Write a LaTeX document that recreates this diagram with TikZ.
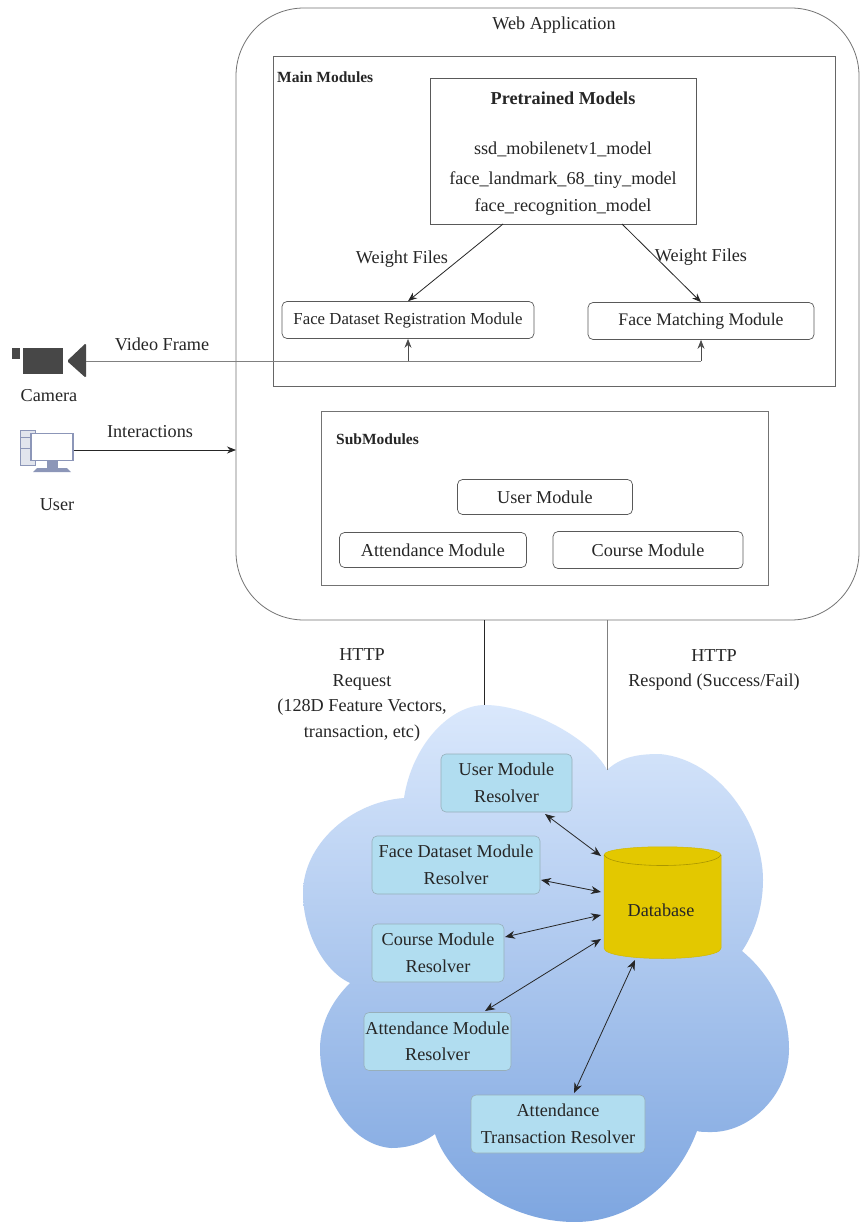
\documentclass[tikz,border=0pt]{standalone}
\usepackage{fontspec}
\setmainfont{Liberation Serif}
\usetikzlibrary{arrows.meta,shapes.geometric}
\definecolor{resblue}{HTML}{B1DDF0}
\definecolor{cloudtop}{HTML}{DAE8FC}
\definecolor{cloudbot}{HTML}{7EA6E0}
\definecolor{dbyellow}{HTML}{E3C800}
\definecolor{iconblue}{HTML}{8C96B8}
\tikzset{
  lbl/.style={inner sep=0pt,align=center,font=\fontsize{18.2}{25.5}\selectfont,text=black!85},
  frame/.style={draw=black!60,line width=.8pt,fill=white,inner sep=0pt},
  mod/.style={draw=black!65,line width=.7pt,rounded corners=5pt,fill=white,inner sep=0pt,font=\fontsize{18.2}{22}\selectfont,text=black!85},
  res/.style={draw=cyan!40!black!50,line width=.6pt,fill=resblue,rounded corners=5pt,inner sep=0pt,align=center,font=\fontsize{18.2}{26.5}\selectfont,text=black!85},
  arr/.style={-{Stealth[length=9pt,width=7pt]},line width=.8pt,draw=black!85},
  darr/.style={{Stealth[length=10pt,width=8pt]}-{Stealth[length=10pt,width=8pt]},line width=.8pt,draw=black!85},
  gline/.style={line width=.8pt,draw=black!50},
}
\begin{document}
\begin{tikzpicture}[x=1pt,y=-1pt]
\useasboundingbox (0,0) rectangle (859,1222);
\fill[white] (0,0) rectangle (859,1222);
% web application frame
\node[draw=black!55,line width=.8pt,fill=white,rounded corners=68pt,minimum width=623pt,minimum height=612pt,inner sep=0pt] (web) at (547.5,314) {};
\node[lbl] (webapp) at (554,25) {Web Application};
% main modules
\node[frame,minimum width=562pt,minimum height=330pt] (mainbox) at (554,221) {};
\node[lbl,anchor=west,font=\fontsize{15.5}{22}\selectfont\bfseries] (mainlbl) at (277,77) {Main Modules};
\node[frame,draw=black!65,minimum width=266pt,minimum height=146pt] (pre) at (563,151) {};
\node[lbl,font=\fontsize{18.2}{22}\selectfont\bfseries] (pretitle) at (563,98) {Pretrained Models};
\node[lbl] (ssd) at (563,149) {ssd\_mobilenetv1\_model};
\node[lbl] (landmark) at (563,180) {face\_landmark\_68\_tiny\_model};
\node[lbl] (recog) at (563,207) {face\_recognition\_model};
\node[mod,font=\fontsize{16.8}{22}\selectfont,minimum width=252pt,minimum height=37pt] (reg) at (408,320) {Face Dataset Registration Module};
\node[mod,font=\fontsize{17.7}{22}\selectfont,minimum width=226pt,minimum height=37pt] (match) at (701,321) {Face Matching Module};
\coordinate (preL) at (503,224);
\coordinate (preR) at (622,224);
\draw[arr] (preL) -- (reg.north);
\draw[arr] (preR) -- (match.north);
\node[lbl] (wf1) at (402,259) {Weight Files};
\node[lbl] (wf2) at (701,257) {Weight Files};
% submodules
\node[frame,draw=black!55,minimum width=447pt,minimum height=174pt] (subbox) at (545,498) {};
\node[lbl,anchor=west,font=\fontsize{15.5}{22}\selectfont\bfseries] (sublbl) at (336,439) {SubModules};
\node[mod,minimum width=175pt,minimum height=35pt] (user) at (545,497) {User Module};
\node[mod,minimum width=187pt,minimum height=35pt] (att) at (433,550) {Attendance Module};
\node[mod,minimum width=190pt,minimum height=37pt] (course) at (648,550) {Course Module};
% camera
\fill[black!72] (12,348) rectangle (20,359);
\fill[black!72] (23,348) rectangle (63,374);
\fill[black!72,rounded corners=1.5pt] (86,343) -- (86,378) -- (67,361) -- cycle;
\coordinate (cam) at (86,361);
\node[lbl] (camlbl) at (49,396) {Camera};
% video frame line
\coordinate (jR) at (701,361);
\coordinate (jL) at (408,361);
\draw[gline] (cam) -- (jR);
\draw[arr,draw=black!70] (jL) -- (reg.south);
\draw[arr,draw=black!70] (jR) -- (match.south);
\node[lbl] (vf) at (162,344) {Video Frame};
% user icon
\draw[iconblue,line width=.8pt,fill=iconblue!25] (20,430) rectangle (35,465);
\draw[iconblue,line width=.8pt] (20,437) -- (35,437) (20,448) -- (35,448);
\fill[iconblue] (47,460) rectangle (58,468);
\fill[iconblue] (37,468) -- (67,468) -- (71,472) -- (33,472) -- cycle;
\node[draw=iconblue,line width=1.2pt,fill=white,minimum width=42pt,minimum height=27pt,inner sep=0pt] (pc) at (52,447) {};
\node[lbl] (userlbl) at (57,505) {User};
\coordinate (waL) at (236,450);
\draw[arr] (pc.east |- waL) -- (waL);
\node[lbl] (inter) at (150,432) {Interactions};
% cloud
\path[top color=cloudtop,bottom color=cloudbot,draw=none] (404,798)
  .. controls (412,745) and (450,705) .. (485,705)
  .. controls (530,705) and (592,740) .. (607,770)
  .. controls (622,756) and (640,754) .. (660,754)
  .. controls (720,760) and (763,825) .. (763,880)
  .. controls (763,910) and (753,935) .. (742,951)
  .. controls (771,975) and (789,1010) .. (789,1049)
  .. controls (789,1095) and (750,1132) .. (712,1132)
  .. controls (705,1132) and (700,1132) .. (697,1131)
  .. controls (675,1190) and (625,1222) .. (575,1222)
  .. controls (510,1222) and (450,1180) .. (435,1134)
  .. controls (420,1145) and (405,1148) .. (391,1148)
  .. controls (350,1145) and (320,1095) .. (320,1049)
  .. controls (320,1020) and (335,998) .. (350,983)
  .. controls (322,970) and (303,930) .. (303,893)
  .. controls (303,845) and (350,802) .. (404,798) -- cycle;
% resolvers
\node[res,minimum width=131pt,minimum height=58pt] (r1) at (506.5,783) {User Module\\Resolver};
\node[res,minimum width=168pt,minimum height=58pt] (r2) at (456,865) {Face Dataset Module\\Resolver};
\node[res,minimum width=132pt,minimum height=58pt] (r3) at (438,953) {Course Module\\Resolver};
\node[res,minimum width=147pt,minimum height=58pt] (r4) at (437.5,1041.5) {Attendance Module\\Resolver};
\node[res,minimum width=174pt,minimum height=58pt] (r5) at (558,1124) {Attendance\\Transaction Resolver};
% database
\fill[dbyellow,draw=dbyellow!92!black,line width=.5pt] (604,855) .. controls (604,844) and (721,844) .. (721,855) -- (721,948) .. controls (721,962) and (604,962) .. (604,948) -- cycle;
\draw[dbyellow!75!black,line width=.6pt] (604,855) .. controls (612,869) and (713,869) .. (721,855);
\node[lbl] (db) at (661,910) {Database};
\coordinate (d1) at (601,856);
\coordinate (d2) at (601,892);
\coordinate (d3) at (601,915);
\coordinate (d4) at (601,939);
\coordinate (d5) at (635,960);
\coordinate (e1) at (545,814);
\coordinate (e2) at (541,880);
\coordinate (e3) at (505,937);
\coordinate (e4) at (485,1011);
\coordinate (e5) at (574,1093);
\draw[darr] (e1) -- (d1);
\draw[darr] (e2) -- (d2);
\draw[darr] (e3) -- (d3);
\draw[darr] (e4) -- (d4);
\draw[darr] (e5) -- (d5);
% http
\coordinate (wab1) at (484,620);
\coordinate (clt) at (484,705);
\coordinate (clv) at (607,770);
\coordinate (wab2) at (607,620);
\draw[line width=.8pt,black!85] (wab1) -- (clt);
\draw[line width=.8pt,black!50] (clv) -- (wab2);
\node[lbl] (req) at (362,695) {HTTP\\Request\\(128D Feature Vectors,\\transaction, etc)};
\node[lbl] (resp) at (714,670) {HTTP\\Respond (Success/Fail)};
\end{tikzpicture}
\end{document}
